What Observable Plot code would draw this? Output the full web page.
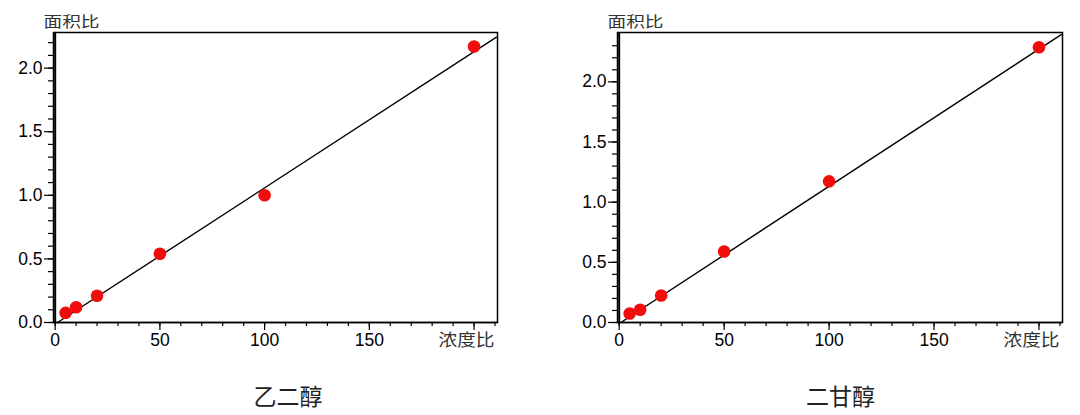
<!DOCTYPE html>
<html><head><meta charset="utf-8">
<script src="https://cdn.jsdelivr.net/npm/d3@7"></script>
<script src="https://cdn.jsdelivr.net/npm/@observablehq/plot@0.6"></script>
<style>
html,body{margin:0;padding:0;background:#fff;}
#root{position:relative;width:1080px;height:415px;overflow:hidden;background:#fff;}
.panel{position:absolute;top:0;}
.title{position:absolute;font-family:"Noto Sans CJK SC";font-size:23px;line-height:23px;color:#222;transform:translateX(-50%);white-space:nowrap;}
</style></head><body><div id="root"></div>
<script>
// ---- data ----
const concentration = [5, 10, 20, 50, 100, 200];
const areaEG = [0.076, 0.12, 0.21, 0.54, 1.00, 2.17];     // 乙二醇
const areaDEG = [0.075, 0.106, 0.225, 0.59, 1.173, 2.288]; // 二甘醇
const fitEGx = [1.1, 210.7];
const fitEGy = [0, 2.243];
const fitDEGx = [0.8, 210.6];
const fitDEGy = [0, 2.393];
const xMajorTicks = [0, 50, 100, 150, 200];
const xLabelTicks = [0, 50, 100, 150];
const xMinorTicks = [0,10,20,30,40,50,60,70,80,90,100,110,120,130,140,150,160,170,180,190,200,210];
const yMajorTicks = [0, 0.5, 1.0, 1.5, 2.0];
const yMinorTicksEG = [0,0.1,0.2,0.3,0.4,0.5,0.6,0.7,0.8,0.9,1.0,1.1,1.2,1.3,1.4,1.5,1.6,1.7,1.8,1.9,2.0,2.1,2.2];
const yMinorTicksDEG = [0,0.1,0.2,0.3,0.4,0.5,0.6,0.7,0.8,0.9,1.0,1.1,1.2,1.3,1.4,1.5,1.6,1.7,1.8,1.9,2.0,2.1,2.2,2.3];
const titles = ["乙二醇", "二甘醇"];
const yLabel = "面积比";
const xLabel = "浓度比";

function chart({x, y, fitX, fitY, yMax, yMinor, marginLeft, marginRight}) {
  const pts = x.map((v, i) => ({x: v, y: y[i]}));
  const fit = fitX.map((v, i) => ({x: v, y: fitY[i]}));
  const cjk = "'Noto Sans CJK SC', sans-serif";
  const svg = Plot.plot({
    width: 540, height: 360,
    marginTop: 32, marginBottom: 38, marginLeft, marginRight,
    x: {domain: [-0.8, 211.2]},
    y: {domain: [0, yMax]},
    style: {fontFamily: "'Liberation Sans', Arial, sans-serif", fontSize: "17px", color: "#000", background: "transparent", overflow: "visible"},
    marks: [
      Plot.axisY({ticks: yMinor, tickSize: 5, tickFormat: () => "", label: null, strokeWidth: 1.2}),
      Plot.axisY({ticks: yMajorTicks, tickSize: 9, tickPadding: 2, tickFormat: d3.format(".1f"), label: null, strokeWidth: 1.2, fontSize: 17.5, fill: "#000"}),
      Plot.axisX({ticks: xMinorTicks, tickSize: 4, tickFormat: () => "", label: null, strokeWidth: 1.2}),
      Plot.axisX({ticks: xMajorTicks, tickSize: 8, tickPadding: 3, tickFormat: d => xLabelTicks.includes(d) ? String(d) : "", label: null, strokeWidth: 1.2, fontSize: 17.5, fill: "#000"}),
      Plot.frame({stroke: "#000", strokeWidth: 1.5}),
      Plot.ruleX([0], {stroke: "#000", strokeWidth: 2}),
      Plot.ruleY([0], {stroke: "#000", strokeWidth: 1.5}),
      Plot.line(fit, {x: "x", y: "y", stroke: "#000", strokeWidth: 1.4}),
      Plot.dot(pts, {x: "x", y: "y", r: 6.3, fill: "#f20d0d", stroke: "none"}),
      Plot.text([yLabel], {frameAnchor: "top-left", textAnchor: "start", lineAnchor: "middle", dx: -10, dy: -10, fontSize: 15, fill: "#333", fontFamily: cjk}),
      Plot.text([xLabel], {frameAnchor: "bottom-right", textAnchor: "start", lineAnchor: "middle", dx: -59, dy: 18.5, fontSize: 17, fill: "#333", fontFamily: cjk})
    ]
  });
  d3.select(svg).selectAll("text")
    .filter(function () { return this.textContent === yLabel || this.textContent === xLabel; })
    .attr("textLength", 56).attr("lengthAdjust", "spacingAndGlyphs");
  return svg;
}

const root = document.getElementById("root");
const panels = [
  {left: 0, x: concentration, y: areaEG, fitX: fitEGx, fitY: fitEGy, yMax: 2.28, yMinor: yMinorTicksEG, marginLeft: 53, marginRight: 43, titleX: 288},
  {left: 540, x: concentration, y: areaDEG, fitX: fitDEGx, fitY: fitDEGy, yMax: 2.41, yMinor: yMinorTicksDEG, marginLeft: 77, marginRight: 18, titleX: 840.5}
];
panels.forEach((p, i) => {
  const div = document.createElement("div");
  div.className = "panel";
  div.style.left = p.left + "px";
  div.appendChild(chart(p));
  root.appendChild(div);
  const t = document.createElement("div");
  t.className = "title";
  t.style.left = p.titleX + "px";
  t.style.top = "384px";
  t.textContent = titles[i];
  root.appendChild(t);
});
</script>
</body></html>
